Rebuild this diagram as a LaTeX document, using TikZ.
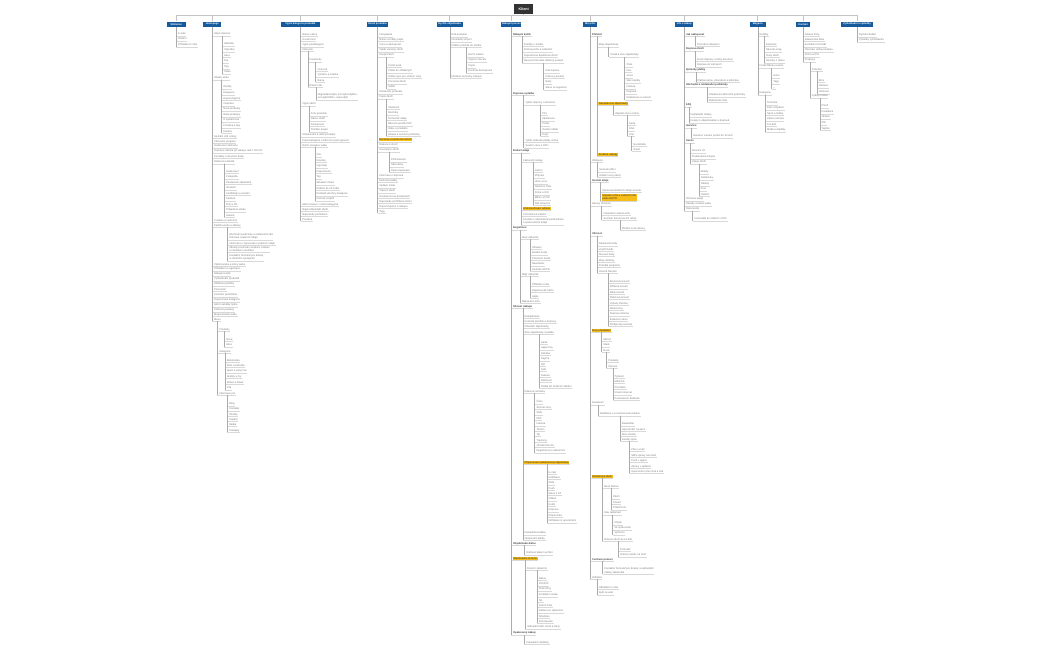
\documentclass[tikz,border=0pt]{standalone}
\usepackage{fontspec}
\setmainfont{Liberation Sans}
\definecolor{hblue}{HTML}{155A9C}
\definecolor{ttl}{HTML}{333333}
\definecolor{hly}{HTML}{F7BE1B}
\definecolor{txt}{HTML}{7A7A7A}
\definecolor{vl}{HTML}{ABABAB}
\definecolor{ul}{HTML}{D8D8D8}
\definecolor{busc}{HTML}{C4C4C4}
\newcount\nn
\newcommand\itm[4][]{%
  \global\advance\nn by 1
  \edef\pn{\csname par\the\numexpr#2-1\relax\endcsname}%
  \edef\cn{n\the\nn}%
  \coordinate (t) at (0,-#3-1.4);
  \path (\pn.south |- t) ++(1.2,0) node[it,#1] (\cn) {#4};
  \draw[vline] (\pn.south) -- (\pn.south |- t);
  \draw[uline] (\pn.south |- t) -- (\cn.south east);
  \expandafter\xdef\csname par#2\endcsname{\cn}%
}
\newcommand\colhead[4]{%
  \node[head, minimum width=#3] (#1) at (#2,-24.2) {#4};
  \draw[bus] (title.south |- bus) -| (#1.north);
  \expandafter\xdef\csname par0\endcsname{#1}%
}
\begin{document}
\begin{tikzpicture}[x=1pt,y=1pt,
  it/.style={anchor=south west, inner xsep=0.5pt, inner ysep=0.35pt,
    font=\fontsize{2.6}{3.1}\selectfont, text=txt, text height=1.95pt, text depth=0.55pt},
  two/.style={align=left, text height=, text depth=},
  hl/.style={fill=hly, text=black!80},
  bd/.style={font=\fontsize{2.6}{3.1}\selectfont\bfseries, text=black!75},
  vline/.style={draw=vl, line width=0.4pt},
  uline/.style={draw=ul, line width=0.35pt},
  bus/.style={draw=busc, line width=0.7pt},
  head/.style={fill=hblue, text=white, font=\fontsize{2.5}{3}\selectfont\bfseries,
    minimum height=5pt, inner sep=0.5pt},
  titlebox/.style={fill=ttl, text=white, font=\fontsize{3.6}{4}\selectfont\bfseries,
    minimum width=19.3pt, minimum height=10pt, inner sep=0pt}]
\fill[white] (0,0) rectangle (1050,-650);
\useasboundingbox (0,0) rectangle (1050,-650);
\node[titlebox] (title) at (523.7,-9) {Klient};
\coordinate (bus) at (0,-15.7);
\draw[bus] (title.south) -- (title.south |- bus);

% ---------- column 1
\colhead{h1}{176.3}{19.3pt}{Whitelion}
\itm{1}{34.7}{E-mail}
\itm{1}{39.7}{Ostatní}
\itm{1}{45.7}{Přihlášení k účtu}

% ---------- column 2
\colhead{h2}{212.3}{18pt}{Homepage}
\itm{1}{34.7}{Hlavní banner}
\itm{2}{44.7}{Aktuality}
\itm{2}{50.3}{Výprodej}
\itm{2}{56}{Akce}
\itm{2}{61.7}{Top}
\itm{2}{67.3}{Tipy}
\itm{2}{72.7}{Video}
\itm{1}{78.3}{Obsah webu}
\itm{2}{87.3}{Značky}
\itm{2}{93.7}{Kategorie}
\itm{2}{99}{Doporučujeme}
\itm{2}{104.3}{Inspirace}
\itm{2}{109.7}{Nové produkty}
\itm{2}{115.3}{Naše prodejny}
\itm{2}{120.7}{O společnosti}
\itm{2}{126.3}{Poradna a tipy}
\itm{2}{132}{Kariéra}
\itm{1}{137}{Sociální sítě a blog}
\itm{1}{142}{Věrnostní program}
\itm{1}{146.7}{Hodnocení obchodu}
\itm{1}{151.7}{Doprava zdarma při nákupu nad 1 500 Kč}
\itm{1}{157}{Kontakty a otevírací doba}
\itm{1}{162.3}{Reference klientů}
\itm{2}{171.7}{Hodnocení}
\itm{2}{177.3}{Fotografie}
\itm{2}{182.7}{Zkušenosti zákazníků}
\itm{2}{188.3}{Ocenění}
\itm{2}{193.7}{Certifikáty a ocenění}
\itm{2}{199.3}{Partneři}
\itm{2}{205}{Tisk a PR}
\itm{2}{210.7}{Případové studie}
\itm{2}{216}{Galerie}
\itm{1}{220.7}{Cookies a soukromí}
\itm{1}{226}{Patička webu a odkazy}
\itm[two]{2}{238.5}{Obchodní podmínky a reklamační řád\\Ochrana osobních údajů}
\itm{2}{244}{Informace o zpracování osobních údajů}
\itm[two]{2}{251}{Zásady používání souborů cookies\\a nastavení souhlasu}
\itm[two]{2}{259.5}{Kontaktní formulář pro dotazy\\a obchodní spolupráci}
\itm{1}{265}{Výběr jazyka a měny webu}
\itm{1}{269.3}{Přihlášení a registrace}
\itm{1}{274.3}{Nákupní košík}
\itm{1}{279.3}{Vyhledávání produktů}
\itm{1}{284.3}{Oblíbené položky}
\itm{1}{290}{Porovnání}
\itm{1}{295.3}{Poslední prohlížené}
\itm{1}{300.3}{Doporučené kategorie}
\itm{1}{305.3}{Akční nabídky týdne}
\itm{1}{310.3}{Dárkové poukazy}
\itm{1}{315}{Mapa stránek webu}
\itm{1}{320}{Menu}
\itm{2}{330}{Produkty}
\itm{3}{340}{Nové}
\itm{3}{345.3}{Akce}
\itm{2}{351.7}{Kategorie}
\itm{3}{360.7}{Elektronika}
\itm{3}{366}{Dům a zahrada}
\itm{3}{371.3}{Sport a volný čas}
\itm{3}{377}{Hračky a hry}
\itm{3}{382.7}{Zdraví a krása}
\itm{3}{388.3}{Vše}
\itm{2}{394}{Informace pro}
\itm{3}{404.3}{Blog}
\itm{3}{409.3}{Kontakty}
\itm{3}{415}{Značky}
\itm{3}{420}{Kariéra}
\itm{3}{425}{Média}
\itm{3}{430.7}{Prodejny}

% ---------- column 3
\colhead{h3}{300.5}{39pt}{Výpis kategorie produktů}
\itm{1}{35}{Název sekce}
\itm{1}{40}{Úvodní text}
\itm{1}{45.7}{Výpis podkategorií}
\itm{1}{50}{Filtrování}
\itm{2}{60.7}{Parametry}
\itm{3}{70}{Cena od}
\itm{3}{75.7}{Výrobce a značka}
\itm{3}{81}{Barva}
\itm{2}{86}{Řazení dle}
\itm[two]{3}{98.3}{Nejprodávanější, od nejlevnějšího,\\od nejdražšího, nejnovější}
\itm{1}{104.3}{Výpis zboží}
\itm{2}{114.3}{Foto produktu}
\itm{2}{119.7}{Název zboží}
\itm{2}{125}{Dostupnost}
\itm{2}{130.7}{Tlačítko koupit}
\itm{1}{135.7}{Stránkování a další produkty}
\itm{1}{141}{Popis kategorie a SEO text pod výpisem}
\itm{1}{146}{Boční navigace webu}
\itm{2}{155.7}{Vše}
\itm{2}{161}{Novinky}
\itm{2}{166.3}{Výprodej}
\itm{2}{171.7}{Doporučené}
\itm{2}{177.7}{Top}
\itm{2}{183.3}{Skladem ihned}
\itm{2}{189}{Dodání do 24 hodin}
\itm{2}{194.3}{Rozbalit všechny kategorie}
\itm{2}{199.7}{Cenové rozpětí}
\itm{1}{205}{Akční banner v rámci kategorie}
\itm{1}{210}{Nejprodávanější zboží}
\itm{1}{215}{Naposledy prohlížené}
\itm{1}{220}{Poradna}

% ---------- column 4
\colhead{h4}{377.5}{20.4pt}{Detail produktu}
\itm{1}{35.7}{Fotogalerie}
\itm{1}{40}{Název a krátký popis}
\itm{1}{45.7}{Cena a dostupnost}
\itm{1}{50.7}{Výběr varianty zboží}
\itm{1}{55.7}{Koupit zboží}
\itm{2}{66}{Počet kusů}
\itm{2}{71.7}{Přidat do oblíbených}
\itm{2}{77}{Hlídací pes pro snížení ceny}
\itm{2}{82.3}{Porovnat zboží}
\itm{2}{87.7}{Sdílet}
\itm{1}{92.7}{Parametry produktu}
\itm{1}{97.7}{Popis zboží}
\itm{2}{108}{Vlastnosti}
\itm{2}{113.3}{Rozměry}
\itm{2}{119}{Technické údaje}
\itm{2}{124.3}{Návod k použití PDF}
\itm{2}{129.7}{Video o produktu}
\itm{2}{135}{Záruka a servisní podmínky}
\itm[hl]{1}{140.3}{Recenze a hodnocení zboží}
\itm{1}{145.3}{Diskuze k zboží}
\itm{1}{150.3}{Související zboží}
\itm{2}{160.3}{Příslušenství}
\itm{2}{165.7}{Alternativy}
\itm{2}{171}{Často kupované}
\itm{1}{176.3}{Informace o dopravě}
\itm{1}{181}{Možnosti platby}
\itm{1}{186.3}{Výdejní místa}
\itm{1}{191.7}{Vrácení zboží}
\itm{1}{196.7}{Dostupnost na prodejnách}
\itm{1}{201.7}{Naposledy prohlížené zboží}
\itm{1}{207}{Doporučujeme k nákupu}
\itm{1}{211.7}{Tagy}

% ---------- column 5
\colhead{h5}{449.7}{26pt}{Rychlá objednávka}
\itm{1}{35.7}{Kód produktu}
\itm{1}{40.7}{Hromadný import}
\itm{1}{46}{Přidání položek do košíku}
\itm{2}{55.7}{Ruční zadání}
\itm{2}{60.7}{Import z Excelu}
\itm{2}{66.3}{Kopie}
\itm{2}{71.7}{Kontrola dostupnosti}
\itm{1}{77}{Uložené seznamy nákupů}

% ---------- column 6
\colhead{h6}{511.3}{19.3pt}{Nákupní proces}
\itm[bd]{1}{35}{Nákupní košík}
\itm{2}{45}{Položky v košíku}
\itm{2}{50.7}{Změna počtu a odebrání}
\itm{2}{56}{Doporučené doplňkové zboží}
\itm{2}{61.7}{Slevový kód nebo dárkový poukaz}
\itm{3}{71.7}{Kód kupónu}
\itm{3}{77}{Dárkový poukaz}
\itm{3}{82.7}{Body}
\itm{3}{88.3}{Sleva za registraci}
\itm[bd]{1}{94}{Doprava a platba}
\itm{2}{103.3}{Výběr dopravy a doručení}
\itm{3}{114}{PPL}
\itm{3}{119.3}{Zásilkovna}
\itm{3}{124.7}{Pošta}
\itm{3}{130.3}{Osobní odběr}
\itm{3}{135}{Kurýr}
\itm{2}{141}{Výběr způsobu platby online}
\itm{2}{146.3}{Souhrn ceny a DPH}
\itm[bd]{1}{151.3}{Dodací údaje}
\itm{2}{161}{Fakturační údaje}
\itm{3}{171}{Jméno}
\itm{3}{176.7}{Příjmení}
\itm{3}{182.3}{Ulice a č.p.}
\itm{3}{187.7}{Telefonní číslo}
\itm{3}{193.3}{Firma a IČO}
\itm{3}{198.7}{Město a PSČ}
\itm{3}{204}{Stát doručení}
\itm[hl]{2}{209}{Jiná doručovací adresa}
\itm{2}{215}{Poznámka k zásilce}
\itm[two]{2}{223.3}{Souhlas s obchodními podmínkami\\a zpracováním údajů}
\itm[bd]{1}{228.3}{Registrace}
\itm{2}{237.7}{Nový zákazník}
\itm{3}{247.7}{Uživatel}
\itm{3}{253.3}{Zadání hesla}
\itm{3}{258.7}{Potvrzení hesla}
\itm{3}{264.3}{Newsletter}
\itm{3}{270}{Souhlas GDPR}
\itm{2}{275}{Stálý zákazník}
\itm{3}{285}{Přihlášení účtu}
\itm{3}{290.7}{Zapomenuté heslo}
\itm{3}{296.7}{Apple}
\itm{2}{301.7}{Nákup bez účtu}
\itm[bd]{1}{307}{Shrnutí nákupu}
\itm{2}{316.7}{Rekapitulace}
\itm{2}{322}{Kontrola položek a dopravy}
\itm{2}{326.7}{Odeslání objednávky}
\itm{2}{332.7}{Stav objednávky a platba}
\itm{3}{342.7}{Karta}
\itm{3}{348.3}{Apple Pay}
\itm{3}{353.7}{Dobírka}
\itm{3}{359.3}{PayPal}
\itm{3}{364.7}{QR}
\itm{3}{370}{Úvěr}
\itm{3}{375.7}{Faktura}
\itm{3}{381}{Zálohově}
\itm{3}{386.7}{Platba při osobním odběru}
\itm{2}{391.7}{Děkovací stránka}
\itm{3}{402.3}{Číslo}
\itm{3}{407.7}{Shrnutí ceny}
\itm{3}{413.3}{SMS}
\itm{3}{418.7}{PDF}
\itm{3}{424.3}{Faktura}
\itm{3}{429.7}{Termín}
\itm{3}{435}{Tip}
\itm{3}{440.7}{Tracking}
\itm{3}{446}{Ohodnoťte nás}
\itm{3}{451.3}{Registrace po dokončení}
\itm[hl]{2}{462.7}{Připomenutí nedokončené objednávky}
\itm{3}{472.7}{E-mail}
\itm{3}{477.7}{Notifikace}
\itm{3}{483.3}{SMS}
\itm{3}{488.7}{Push}
\itm{3}{494}{Sleva 5 Kč}
\itm{3}{499.3}{Odkaz}
\itm{3}{505}{Košík}
\itm{3}{510.3}{Doprava}
\itm{3}{516}{Připomínka}
\itm{3}{521.3}{Odhlášení z upozornění}
\itm{2}{533.3}{Neúspěšná platba}
\itm{2}{538.7}{Opakování platby}
\itm[bd]{1}{544}{Objednávka dárku}
\itm{2}{553.3}{Dárkové balení a přání}
\itm[hl]{1}{558.7}{Objednávka na firmu}
\itm{2}{568.7}{Firemní zákazník}
\itm{3}{578.7}{Název}
\itm{3}{584.3}{IČO/DIČ}
\itm{3}{589.3}{Sídlo firmy}
\itm{3}{595.3}{Kontaktní osoba}
\itm{3}{600.7}{Tel.}
\itm{3}{606}{Interní číslo}
\itm{3}{611.3}{Faktura se splatností}
\itm{3}{616.7}{Středisko}
\itm{3}{622}{Schvalování}
\itm{2}{627.3}{Velkoobchodní ceník a slevy}
\itm[bd]{1}{633.3}{Opakovaný nákup}
\itm{2}{642.7}{Pravidelné dodávky}

% ---------- column 7
\colhead{h7}{590.3}{14pt}{Můj účet}
\itm[bd]{1}{35}{Přehled}
\itm{2}{45.7}{Moje objednávky}
\itm{3}{55.7}{Detail a stav objednávky}
\itm{4}{65.7}{Číslo}
\itm{4}{71}{Den}
\itm{4}{76.7}{Cena}
\itm{4}{81.7}{Stav zásilky}
\itm{4}{87.3}{Faktura}
\itm{4}{92.7}{Doprava}
\itm{4}{98.3}{Reklamace a vrácení}
\itm[hl]{2}{104}{Nezaplacené objednávky}
\itm{3}{114}{Zaplatit znovu online}
\itm{4}{124}{Karta}
\itm{4}{129.3}{Účet}
\itm{4}{135}{Jiné}
\itm{5}{145}{Na dobírku}
\itm{5}{150}{Zrušit}
\itm[hl]{2}{155}{Zrušené nákupy}
\itm{1}{160.7}{Oblíbené}
\itm{2}{170.3}{Seznam přání}
\itm{2}{176}{Hlídání ceny zboží}
\itm[bd]{1}{181}{Osobní údaje}
\itm{2}{190.7}{Úprava kontaktních údajů a hesla}
\itm[hl,two]{2}{199.3}{Smazání účtu a osobních dat\\podle GDPR}
\itm{1}{204.3}{Adresy doručení}
\itm{2}{214}{Fakturační adresa účtu}
\itm{2}{219}{Seznam doručovacích adres}
\itm{3}{229}{Přidání nové adresy}
\itm[bd]{1}{234.3}{Věrnost}
\itm{2}{244.3}{Nasbírané body}
\itm{2}{250}{Využití bodů}
\itm{2}{255}{Slevové kódy}
\itm{2}{260.7}{Moje odměny}
\itm{2}{266}{Pravidla programu}
\itm{2}{271.7}{Úrovně členství}
\itm{3}{281.7}{Bronzová úroveň}
\itm{3}{287.3}{Stříbrná úroveň}
\itm{3}{292.7}{Zlatá úroveň}
\itm{3}{298}{Platinová úroveň}
\itm{3}{303.7}{Výhody členství}
\itm{3}{309}{Narozeniny}
\itm{3}{314.3}{Doprava zdarma}
\itm{3}{319.7}{Exkluzivní akce}
\itm{3}{325}{Předprodej novinek}
\itm[hl]{1}{330.7}{Moje předplatné}
\itm{2}{340}{Aktivní}
\itm{2}{345.3}{Staré}
\itm{2}{351}{Nové}
\itm{3}{361}{Produkty}
\itm{3}{366.7}{Četnost}
\itm{4}{376.7}{Týdenní}
\itm{4}{382}{Měsíčně}
\itm{4}{387.7}{Čtvrtletně}
\itm{4}{393.3}{Vlastní interval}
\itm{4}{398.7}{Pozastavení dodávek}
\itm{1}{403.3}{Nastavení}
\itm{2}{414.3}{Notifikace a e-mailová komunikace}
\itm{3}{424.3}{Newsletter}
\itm{3}{430}{Upozornění na akce}
\itm{3}{435}{Stav zásilek}
\itm{3}{440}{Kanály zpráv}
\itm{4}{450}{Přes e-mail}
\itm{4}{456}{SMS zprávy na mobil}
\itm{4}{461}{Push v appce}
\itm{4}{466.7}{Zprávy v aplikaci}
\itm{4}{472}{Upozornění přes chat a sítě}
\itm[hl]{1}{476.7}{Reklamace zboží}
\itm{2}{486.7}{Nová žádost}
\itm{3}{497.3}{Zboží}
\itm{3}{502.7}{Důvod}
\itm{3}{508.3}{Přiložit foto}
\itm{2}{513.3}{Stav reklamací}
\itm{3}{523.3}{Přijato}
\itm{3}{528.3}{Ve zpracování}
\itm{3}{533.3}{Vyřízeno}
\itm{2}{540}{Vrácení zboží do 14 dnů}
\itm{3}{550}{Formulář}
\itm{3}{555.3}{Vrácení peněz na účet}
\itm[bd]{1}{560}{Centrum pomoci}
\itm[two]{2}{572.7}{Kontaktní formulář pro dotazy a nejčastější\\otázky zákazníků}
\itm{1}{578}{Odhlásit}
\itm{2}{587.7}{Odhlášení z účtu}
\itm{2}{593.3}{Zpět na web}

% ---------- column 8
\colhead{h8}{684.2}{18.3pt}{Info a nákup}
\itm[bd]{1}{35}{Jak nakupovat}
\itm{2}{45}{Průvodce nákupem}
\itm[bd]{1}{49.3}{Doprava zboží}
\itm{2}{60}{Ceník dopravy a doby doručení}
\itm{2}{65.7}{Doprava do zahraničí}
\itm[bd]{1}{70.3}{Způsoby platby}
\itm{2}{81}{Platba kartou, převodem a dobírkou}
\itm[bd]{1}{85.7}{Obchodní a reklamační podmínky}
\itm{2}{95.7}{Všeobecné obchodní podmínky}
\itm{2}{101}{Reklamační řád}
\itm[bd]{1}{105.7}{FAQ}
\itm{2}{115.7}{Nejčastější dotazy}
\itm{2}{121.7}{Dotazy k objednávkám a dopravě}
\itm[bd]{1}{126.3}{Garance}
\itm{2}{136.7}{Garance vrácení peněz do 30 dnů}
\itm[bd]{1}{141.7}{Servis}
\itm{2}{151.7}{Servisní síť}
\itm{2}{157.3}{Prodloužená záruka}
\itm{2}{162.3}{Výkup zboží}
\itm{3}{172.3}{Mobily}
\itm{3}{178.3}{Notebooky}
\itm{3}{184.3}{Tablety}
\itm{3}{189.3}{Foto}
\itm{3}{195}{Ostatní}
\itm{1}{199.3}{Ochrana údajů}
\itm{1}{204.3}{Zásady cookies webu}
\itm{1}{209.3}{Dokumenty}
\itm{2}{219.3}{Formuláře ke stažení v PDF}

% ---------- column 9
\colhead{h9}{757.8}{15.7pt}{Magazín}
\itm{1}{35}{Rubriky}
\itm{2}{45}{Inspirace}
\itm{2}{50.7}{Návody a tipy}
\itm{2}{56}{Testy zboží}
\itm{2}{61.7}{Novinky z oboru}
\itm{1}{66.7}{Detail článku a autor}
\itm{2}{76.7}{Autor}
\itm{2}{82.3}{Tagy}
\itm{2}{88}{–}
\itm{1}{93.3}{Kategorie}
\itm{2}{103.3}{Technika}
\itm{2}{108.3}{Dům a bydlení}
\itm{2}{114}{Sport a hobby}
\itm{2}{119.3}{Zdraví a krása}
\itm{2}{125}{Pro děti}
\itm{2}{130.7}{Móda a doplňky}

% ---------- column 10
\colhead{h10}{803}{14pt}{Kontakt}
\itm{1}{35}{Adresa firmy}
\itm{1}{40}{Zákaznická linka}
\itm{1}{45.7}{Kontaktní formulář}
\itm{1}{50.7}{Otevírací doba prodejen}
\itm{1}{55.7}{Firma a IČO}
\itm{1}{60.7}{Prodejny}
\itm{2}{70}{Pobočky}
\itm{3}{81}{Brno}
\itm{3}{86.7}{Ostrava}
\itm{3}{92.3}{Olomouc}
\itm{2}{96.7}{Výdejní místa}
\itm{3}{106.7}{Plzeň}
\itm{3}{112.3}{Pardubice}
\itm{3}{117.7}{Jihlava}
\itm{3}{123.3}{Zlín}
\itm{3}{129}{Teplice}

% ---------- column 11
\colhead{h11}{857}{32.3pt}{Vyhledávání a výsledky}
\itm{1}{35.7}{Rychlé hledání}
\itm{1}{40.7}{Výsledky vyhledávání}
\end{tikzpicture}
\end{document}
